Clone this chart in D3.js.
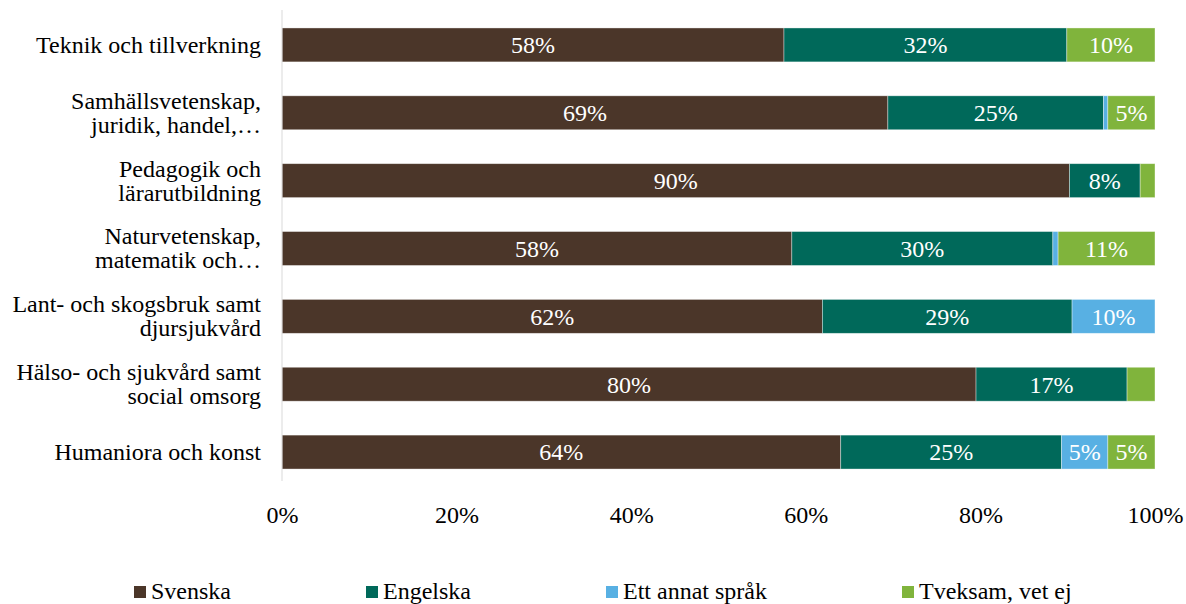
<!DOCTYPE html>
<html><head><meta charset="utf-8">
<script src="https://cdn.jsdelivr.net/npm/d3@7"></script>
<style>body{margin:0;background:#fff}svg{display:block}svg text{font-family:"Liberation Serif","Times New Roman","DejaVu Serif",serif}</style>
</head><body>
<svg id="c" width="1186" height="604"></svg>
<script>
const categories = [
  "Teknik och tillverkning",
  "Samhällsvetenskap,\njuridik, handel,…",
  "Pedagogik och\nlärarutbildning",
  "Naturvetenskap,\nmatematik och…",
  "Lant- och skogsbruk samt\ndjursjukvård",
  "Hälso- och sjukvård samt\nsocial omsorg",
  "Humaniora och konst"
];
const seriesNames = ["Svenska", "Engelska", "Ett annat språk", "Tveksam, vet ej"];
const svenska   = [57.5, 69.4, 90.2, 58.4, 61.9, 79.5, 64.0];
const engelska  = [32.4, 24.7,  8.1, 29.9, 28.6, 17.3, 25.3];
const annat     = [ 0.0,  0.5,  0.0,  0.6,  9.5,  0.0,  5.3];
const tveksam   = [10.1,  5.4,  1.7, 11.1,  0.0,  3.2,  5.4];
const xTicks = [0, 20, 40, 60, 80, 100];
const colors = ["#4b3629", "#00695a", "#58b0e3", "#80b43c"];

(function () {
const svg = d3.select("#c");
const fs = 24;
const mLeft = 282, mRight = 1155, mTop = 11, mBottom = 486;
const x = d3.scaleLinear().domain([0, 100]).range([mLeft, mRight]);
const y = d3.scaleBand().domain(categories).range([mTop, mBottom]).paddingInner(0.5).paddingOuter(0.25);

const rows = categories.map((c, i) => ({cat: c, Svenska: svenska[i], Engelska: engelska[i], "Ett annat språk": annat[i], "Tveksam, vet ej": tveksam[i]}));
const stack = d3.stack().keys(seriesNames)(rows);

const g = svg.append("g");
stack.forEach((layer, li) => {
  layer.forEach(d => {
    const w = x(d[1]) - x(d[0]);
    if (w <= 0) return;
    g.append("rect")
      .attr("x", x(d[0])).attr("y", y(d.data.cat))
      .attr("width", w).attr("height", y.bandwidth())
      .attr("fill", colors[li]).attr("stroke", "#ffffff").attr("stroke-opacity", 0.5).attr("stroke-width", 0.75);
    const v = d[1] - d[0];
    if (v >= 4) {
      g.append("text")
        .attr("x", (x(d[0]) + x(d[1])) / 2).attr("y", y(d.data.cat) + y.bandwidth() / 2)
        .attr("dy", "0.35em").attr("text-anchor", "middle")
        .attr("fill", "#ffffff").attr("font-size", fs)
        .text(Math.round(v) + "%");
    }
  });
});

svg.append("line").attr("x1", mLeft).attr("x2", mLeft).attr("y1", 10).attr("y2", 481)
  .attr("stroke", "#d9d9d9").attr("stroke-width", 1);

categories.forEach(c => {
  const lines = c.split("\n");
  const cy = y(c) + y.bandwidth() / 2;
  const lh = 24;
  const t = svg.append("text").attr("text-anchor", "end").attr("font-size", fs).attr("fill", "#000");
  lines.forEach((ln, k) => {
    t.append("tspan").attr("x", 261).attr("y", cy + (k - (lines.length - 1) / 2) * lh).attr("dy", "0.33em").text(ln);
  });
});

const xAxis = d3.axisBottom(x).tickValues(xTicks).tickSize(0).tickFormat(d => d + "%");
const ax = svg.append("g").attr("transform", "translate(0,481)").call(xAxis);
ax.select(".domain").remove();
ax.selectAll("text").attr("font-family", null).attr("font-size", fs).attr("fill", "#000").attr("y", 34).attr("dy", "0.35em");

const legX = [134, 366, 606, 902];
seriesNames.forEach((s, i) => {
  svg.append("rect").attr("x", legX[i]).attr("y", 586).attr("width", 12).attr("height", 12).attr("fill", colors[i]);
  svg.append("text").attr("x", legX[i] + 17).attr("y", 591).attr("dy", "0.35em")
    .attr("font-size", fs).attr("fill", "#000").text(s);
});
})();
</script>
</body></html>
